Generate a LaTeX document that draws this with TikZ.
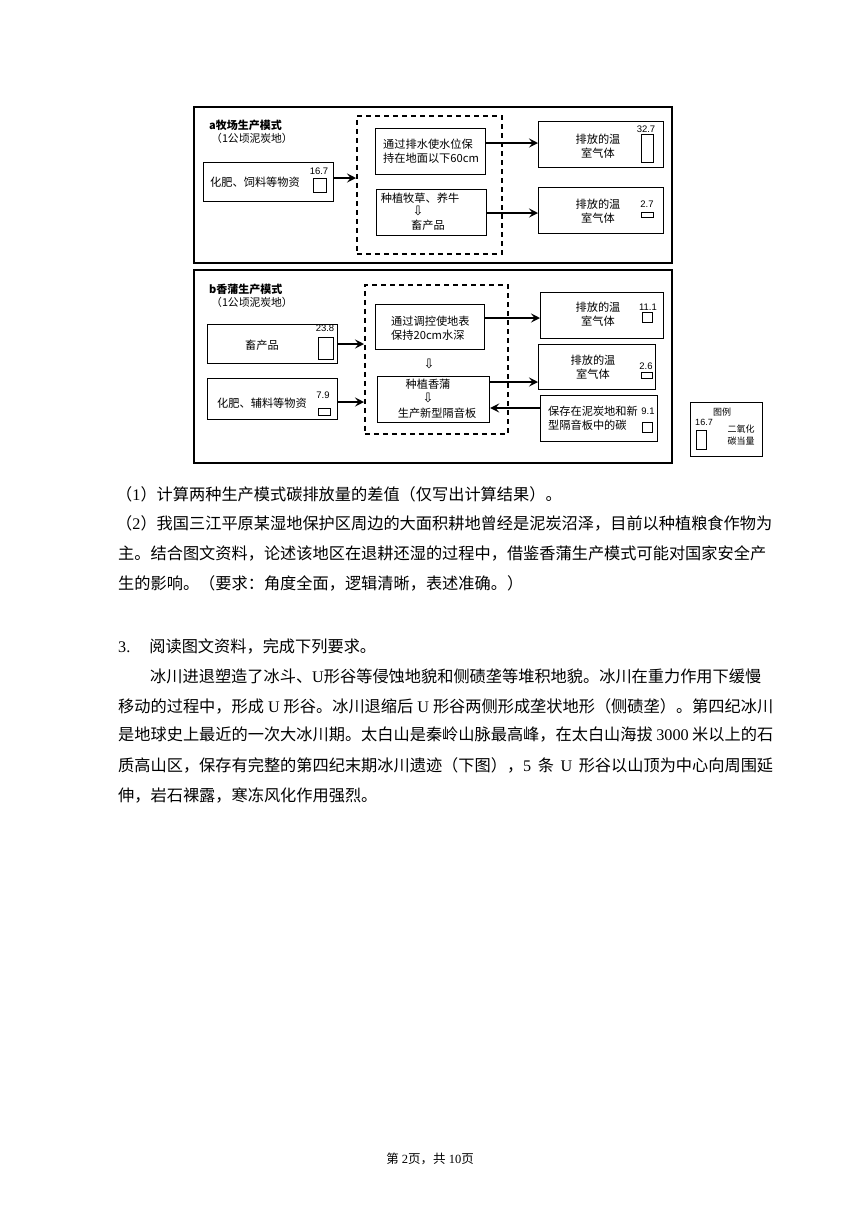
\documentclass[tikz,border=0pt]{standalone}
\usepackage{fontspec}
\setmainfont{Noto Sans CJK SC}
\newfontfamily\figfont{Noto Sans CJK SC}
\newfontfamily\numfont{Liberation Sans}
\newfontfamily\latnfont{Liberation Serif}
\newfontfamily\symfont{DejaVu Sans}
\newcommand\latn[1]{{\latnfont #1}}
\usetikzlibrary{arrows.meta}
\XeTeXlinebreaklocale "zh"
\XeTeXlinebreakskip=0pt plus 2pt
\begin{document}
\begin{tikzpicture}[x=1pt,y=-1pt,
  frame/.style={draw, line width=1.6pt, inner sep=0, anchor=north west},
  dbox/.style={draw, line width=1.5pt, dash pattern=on 5pt off 4pt, inner sep=0, anchor=north west},
  box/.style={draw, line width=1.2pt, inner sep=0, anchor=north west},
  mini/.style={draw, line width=1.1pt, inner sep=0, anchor=north west},
  arr/.style={line width=1.6pt, -{Stealth[length=9pt,width=9pt,inset=3.5pt]}},
  ftxt/.style={inner sep=0, font=\figfont\fontsize{11.2}{14}\selectfont, align=center},
  fltxt/.style={inner sep=0, font=\figfont\fontsize{11.2}{14}\selectfont, align=left, anchor=west},
  ttl/.style={inner sep=0, font=\figfont\bfseries\fontsize{11}{13}\selectfont, anchor=west},
  num/.style={inner sep=0, font=\numfont\fontsize{9.5}{10}\selectfont},
  darr/.style={inner sep=0, font=\symfont\fontsize{13}{14}\selectfont},
  body/.style={inner sep=0, anchor=west, font=\fontsize{16.2}{18}\selectfont},
  ]
\fill[white] (0,0) rectangle (860,1216);
\useasboundingbox (0,0) rectangle (860,1216);

% ---------- panel a ----------
\node[frame, minimum width=478, minimum height=156] (pa) at (193,106) {};
\node[ttl] (ta) at (209,125) {a牧场生产模式};
\node[fltxt, font=\figfont\fontsize{10.8}{13}\selectfont] (sa) at (211,138) {（1公顷泥炭地）};

\node[box, minimum width=130, minimum height=39] (a1) at (203,162) {};
\node[fltxt] (a1t) at (210,182) {化肥、饲料等物资};
\node[mini, minimum width=13, minimum height=14] (a1r) at (313,178) {};
\node[num] (a1n) at (319,171) {16.7};

\node[dbox, minimum width=145, minimum height=138] (da) at (356,115) {};
\node[box, minimum width=110, minimum height=46] (ai1) at (375,128) {};
\node[fltxt] (ai1t) at (383,151) {通过排水使水位保\\持在地面以下60cm};
\node[box, minimum width=110, minimum height=46] (ai2) at (376,189) {};
\node[ftxt] (ai2a) at (420,198) {种植牧草、养牛};
\node[darr] (ai2b) at (418,211) {⇩};
\node[ftxt] (ai2c) at (428,225) {畜产品};

\node[box, minimum width=125, minimum height=46] (ra1) at (538,121) {};
\node[ftxt] (ra1t) at (598,146) {排放的温\\室气体};
\node[mini, minimum width=12, minimum height=28] (ra1r) at (641,134) {};
\node[num] (ra1n) at (646,129) {32.7};

\node[box, minimum width=125, minimum height=46] (ra2) at (538,187) {};
\node[ftxt] (ra2t) at (598,211) {排放的温\\室气体};
\node[mini, minimum width=12, minimum height=5] (ra2r) at (641,212) {};
\node[num] (ra2n) at (647,204) {2.7};

\draw[arr] (a1.east |- 0,178) -- (da.west |- 0,178);
\draw[arr] (ai1.east |- 0,143) -- (ra1.west |- 0,143);
\draw[arr] (ai2.east |- 0,213) -- (ra2.west |- 0,213);

% ---------- panel b ----------
\node[frame, minimum width=478, minimum height=193] (pb) at (193,269) {};
\node[ttl] (tb) at (209,289) {b香蒲生产模式};
\node[fltxt, font=\figfont\fontsize{10.8}{13}\selectfont] (sb) at (211,302) {（1公顷泥炭地）};

\node[box, minimum width=130, minimum height=39] (b1) at (207,324) {};
\node[ftxt] (b1t) at (262,345) {畜产品};
\node[mini, minimum width=15, minimum height=22] (b1r) at (318,337) {};
\node[num] (b1n) at (325,328) {23.8};

\node[box, minimum width=130, minimum height=41] (b2) at (207,378) {};
\node[fltxt] (b2t) at (217,403) {化肥、辅料等物资};
\node[mini, minimum width=12, minimum height=7] (b2r) at (318,408) {};
\node[num] (b2n) at (323,395) {7.9};

\node[dbox, minimum width=143, minimum height=149] (db) at (364,284) {};
\node[box, minimum width=109, minimum height=45] (bi1) at (375,304) {};
\node[fltxt] (bi1t) at (391,328) {通过调控使地表\\保持20cm水深};
\node[darr] (bd1) at (429,364) {⇩};
\node[box, minimum width=112, minimum height=46] (bi2) at (377,376) {};
\node[ftxt] (bi2a) at (428,384) {种植香蒲};
\node[darr] (bi2b) at (428,398) {⇩};
\node[ftxt] (bi2c) at (437,413) {生产新型隔音板};

\node[box, minimum width=123, minimum height=46] (rb1) at (540,292) {};
\node[ftxt] (rb1t) at (598,314) {排放的温\\室气体};
\node[mini, minimum width=10, minimum height=10] (rb1r) at (642,312) {};
\node[num] (rb1n) at (648,307) {11.1};

\node[box, minimum width=117, minimum height=45] (rb2) at (538,344) {};
\node[ftxt] (rb2t) at (593,367) {排放的温\\室气体};
\node[mini, minimum width=11, minimum height=6] (rb2r) at (641,372) {};
\node[num] (rb2n) at (646,366) {2.6};

\node[box, minimum width=117, minimum height=46] (rb3) at (540,395) {};
\node[fltxt] (rb3t) at (548,418) {保存在泥炭地和新\\型隔音板中的碳};
\node[mini, minimum width=10, minimum height=10] (rb3r) at (642,422) {};
\node[num] (rb3n) at (648,411) {9.1};

\draw[arr] (b1.east |- 0,344) -- (db.west |- 0,344);
\draw[arr] (b2.east |- 0,402) -- (db.west |- 0,402);
\draw[arr] (bi1.east |- 0,318) -- (rb1.west |- 0,318);
\draw[arr] (bi2.east |- 0,382) -- (rb2.west |- 0,382);
\draw[arr] (rb3.west |- 0,408) -- (bi2.east |- 0,408);

% ---------- legend ----------
\node[box, minimum width=72, minimum height=54] (lg) at (690,402) {};
\node[ftxt, font=\figfont\fontsize{9}{10}\selectfont] (lgt) at (722,412) {图例};
\node[num, font=\numfont\fontsize{9}{10}\selectfont] (lgn) at (704,422) {16.7};
\node[mini, minimum width=10, minimum height=19] (lgr) at (696,430) {};
\node[ftxt, font=\figfont\fontsize{9}{12}\selectfont] (lgd) at (741,435) {二氧化\\碳当量};

% ---------- body text ----------
\node[body] (q1) at (116,494) {（\latn{1}）计算两种生产模式碳排放量的差值（仅写出计算结果）。};
\node[body] (q2a) at (116,523) {\makebox[657pt][s]{（\latn{2}）我国三江平原某湿地保护区周边的大面积耕地曾经是泥炭沼泽，目前以种植粮食作物为}};
\node[body] (q2b) at (118,553) {\makebox[655pt][s]{主。结合图文资料，论述该地区在退耕还湿的过程中，借鉴香蒲生产模式可能对国家安全产}};
\node[body] (q2c) at (118,583) {生的影响。（要求：角度全面，逻辑清晰，表述准确。）};

\node[body] (p3h) at (118,646) {\latn{3.}\hspace{19pt}阅读图文资料，完成下列要求。};
\node[body] (p3a) at (150,676) {\makebox[623pt][s]{冰川进退塑造了冰斗、\latn{U}形谷等侵蚀地貌和侧碛垄等堆积地貌。冰川在重力作用下缓慢}};
\node[body] (p3b) at (118,706) {\makebox[655pt][s]{移动的过程中，形成\latn{ U }形谷。冰川退缩后\latn{ U }形谷两侧形成垄状地形（侧碛垄）。第四纪冰川}};
\node[body] (p3c) at (118,735) {\makebox[655pt][s]{是地球史上最近的一次大冰川期。太白山是秦岭山脉最高峰，在太白山海拔\latn{ 3000 }米以上的石}};
\node[body] (p3d) at (118,765) {\makebox[655pt][s]{质高山区，保存有完整的第四纪末期冰川遗迹（下图），\latn{5 }条\latn{ U }形谷以山顶为中心向周围延}};
\node[body] (p3e) at (118,795) {伸，岩石裸露，寒冻风化作用强烈。};

\node[inner sep=0, font=\fontsize{12.5}{14}\selectfont] (ft) at (430,1159) {第\latn{ 2}页，共\latn{ 10}页};
\end{tikzpicture}
\end{document}
